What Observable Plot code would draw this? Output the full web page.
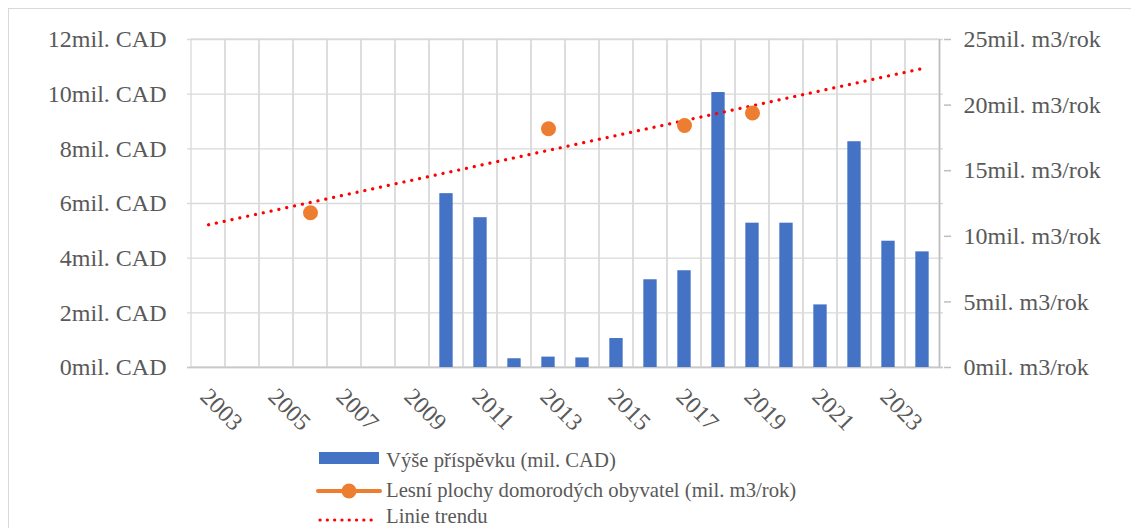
<!DOCTYPE html>
<html>
<head>
<meta charset="utf-8">
<script src="https://cdn.jsdelivr.net/npm/d3@7"></script>
<script src="https://cdn.jsdelivr.net/npm/@observablehq/plot@0.6"></script>
<style>
  html, body { margin: 0; padding: 0; background: #fff; overflow: hidden; }
  body { width: 1131px; height: 528px; position: relative; font-family: "Liberation Serif", "Times New Roman", serif; }
  #frame { position: absolute; left: 8px; top: 8px; width: 1200px; height: 600px; border: 1.5px solid #d9d9d9; box-sizing: border-box; }
  #chart { position: absolute; left: 0; top: 0; }
  #legend { position: absolute; left: 0; top: 440px; }
</style>
</head>
<body>
<div id="frame"></div>
<div id="chart"></div>
<svg id="legend" width="1131" height="88"></svg>
<script>
// ---- data ----
const years = ["2003","2004","2005","2006","2007","2008","2009","2010","2011","2012","2013","2014","2015","2016","2017","2018","2019","2020","2021","2022","2023","2024"];
const contribution = [null,null,null,null,null,null,null,6.36,5.48,0.32,0.38,0.35,1.06,3.21,3.54,10.06,5.28,5.28,2.29,8.26,4.62,4.23]; // mil. CAD
const forestYears = ["2006","2013","2017","2019"];
const forestArea = [11.8,18.2,18.45,19.4]; // mil. m3/rok
const trendYears = ["2003","2024"];
const trendValues = [10.88,22.79]; // mil. m3/rok
const xLabelYears = ["2003","2005","2007","2009","2011","2013","2015","2017","2019","2021","2023"];
const leftTicks = [0,2,4,6,8,10,12];
const rightTicks = [0,5,10,15,20,25];
const seriesNames = ["Výše příspěvku (mil. CAD)", "Lesní plochy domorodých obyvatel (mil. m3/rok)", "Linie trendu"];

const k = 12 / 25; // right-axis units -> left-axis units
const bars = years.map((y, i) => ({year: y, value: contribution[i]})).filter(d => d.value != null);
const dots = forestYears.map((y, i) => ({year: y, value: forestArea[i] * k}));
const trend = trendYears.map((y, i) => ({year: y, value: trendValues[i] * k}));

const W = 1131, H = 440, mL = 187, mR = 188, mT = 39, mB = 73;
const bw = (W - mL - mR) / years.length;
const txt = "#595959";
const grid = "#d9d9d9";

const chart = Plot.plot({
  width: W, height: H,
  marginLeft: mL, marginRight: mR, marginTop: mT, marginBottom: mB,
  style: {fontFamily: "Liberation Serif, Times New Roman, serif", fontSize: "24px", color: txt, background: "transparent"},
  x: {type: "band", domain: years, padding: 0, axis: null, label: null},
  y: {domain: [0, 12], axis: null, label: null},
  marks: [
    // horizontal grid
    Plot.ruleY(leftTicks, {stroke: grid, strokeWidth: 1.3}),
    // vertical grid (band outlines)
    Plot.barY(years, {x: d => d, y1: 0, y2: 12, fill: "none", stroke: grid, strokeWidth: 1.3}),
    // bottom axis line
    Plot.ruleY([0], {stroke: "#c8c8c8", strokeWidth: 1.5}),
    // bars
    Plot.barY(bars, {x: "year", y: "value", fill: "#4472c4", insetLeft: (bw - 13.7) / 2, insetRight: (bw - 13.7) / 2}),
    // trend line
    Plot.line(trend, {x: "year", y: "value", stroke: "#ff0000", strokeWidth: 3.2, strokeDasharray: "0.1 7.9", strokeLinecap: "round"}),
    // forest dots
    Plot.dot(dots, {x: "year", y: "value", r: 7.5, fill: "#ed7d31", stroke: "none"}),
    // left axis
    Plot.axisY(leftTicks, {anchor: "left", label: null, tickSize: 0, tickPadding: 21, tickFormat: d => `${d}mil. CAD`, fill: txt, fontSize: 24}),
    // right axis
    Plot.ruleX([years[years.length - 1]], {stroke: "#bfbfbf", strokeWidth: 1.5, dx: bw / 2, y1: 0, y2: 12}),
    Plot.axisY(rightTicks.map(v => v * k), {anchor: "right", label: null, tickSize: 7, tickPadding: 13, stroke: "#bfbfbf", strokeWidth: 1.5, tickFormat: d => `${Math.round(d / k)}mil. m3/rok`, fill: txt, fontSize: 24}),
    // x labels
    Plot.text(xLabelYears, {x: d => d, y: 0, text: d => d, rotate: 45, textAnchor: "start", lineAnchor: "middle", dx: -4, dy: 25, fill: txt, fontSize: 24})
  ]
});
document.getElementById("chart").appendChild(chart);

// ---- legend ----
const lg = d3.select("#legend");
const lgFont = "Liberation Serif, Times New Roman, serif";
// row 1
lg.append("rect").attr("x", 319).attr("y", 12).attr("width", 60).attr("height", 12).attr("fill", "#4472c4");
lg.append("text").attr("x", 386).attr("y", 27).text(seriesNames[0]);
// row 2
lg.append("line").attr("x1", 318).attr("x2", 380).attr("y1", 51).attr("y2", 51).attr("stroke", "#ed7d31").attr("stroke-width", 4).attr("stroke-linecap", "round");
lg.append("circle").attr("cx", 349).attr("cy", 51).attr("r", 7.5).attr("fill", "#ed7d31");
lg.append("text").attr("x", 386).attr("y", 57).text(seriesNames[1]);
// row 3
lg.append("line").attr("x1", 320).attr("x2", 378).attr("y1", 80).attr("y2", 80).attr("stroke", "#ff0000").attr("stroke-width", 3.2).attr("stroke-dasharray", "0.1 7.2").attr("stroke-linecap", "round");
lg.append("text").attr("x", 386).attr("y", 83).text(seriesNames[2]);
lg.selectAll("text").attr("font-family", lgFont).attr("font-size", 20.7).attr("fill", txt);
</script>
</body>
</html>
